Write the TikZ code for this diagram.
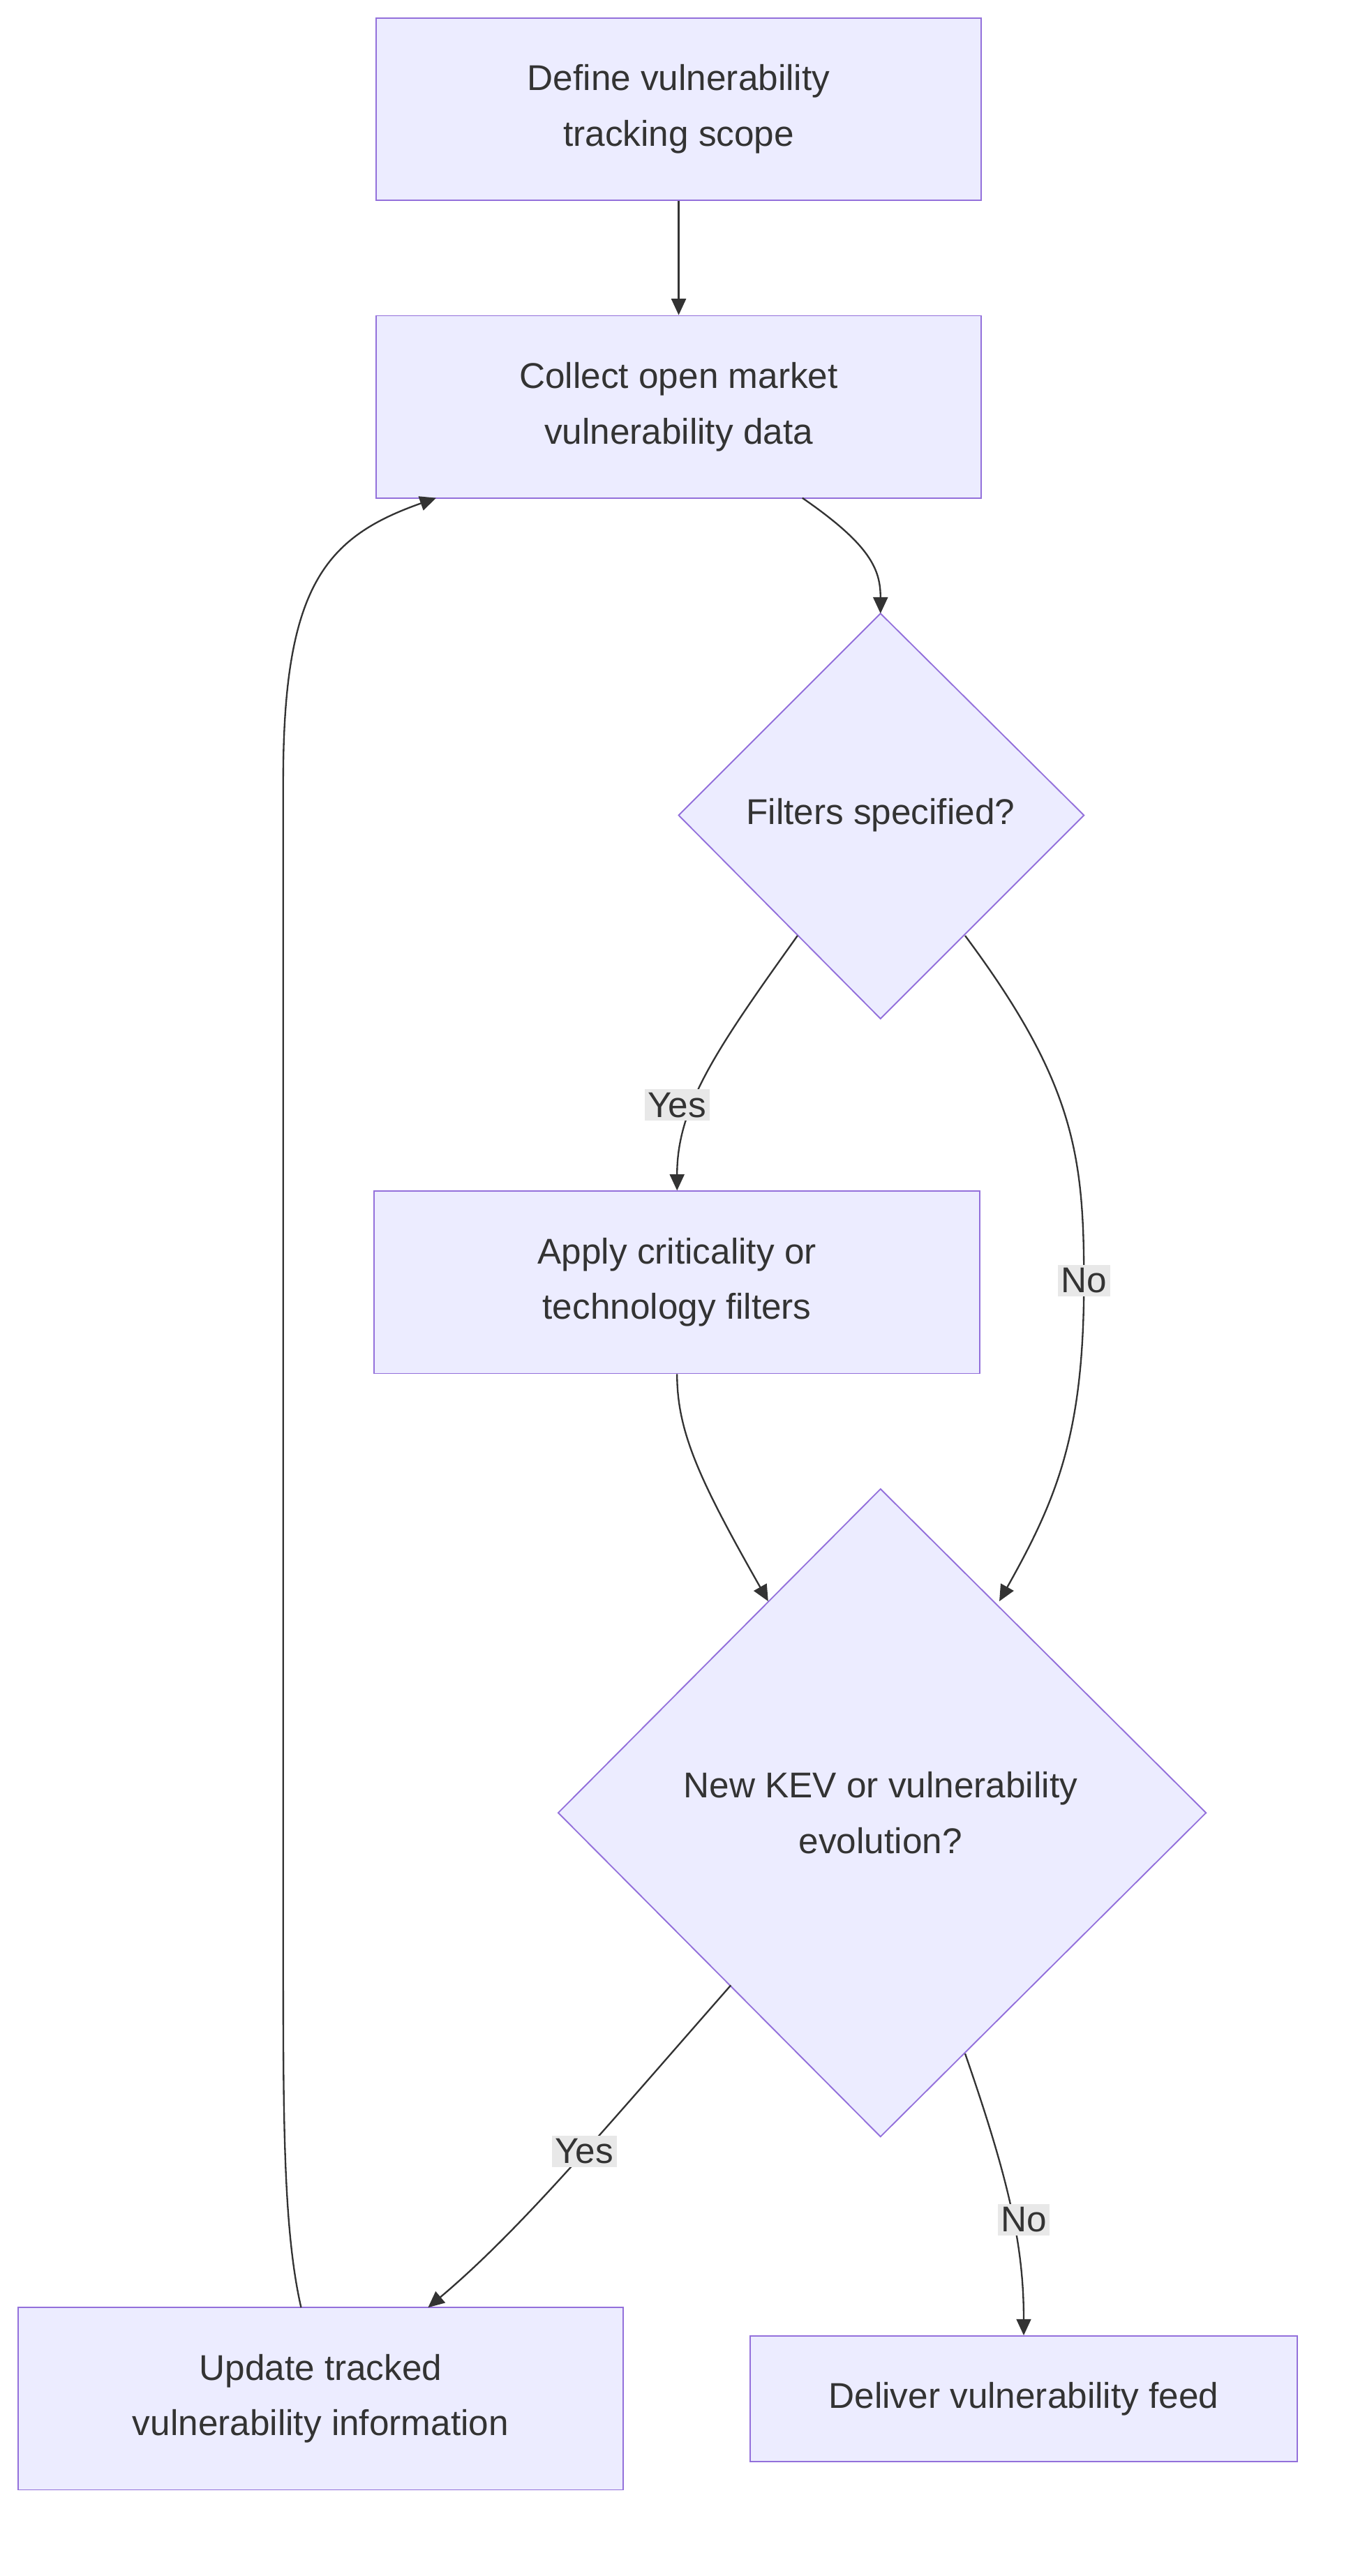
\documentclass[tikz,border=0pt]{standalone}
\usepackage{fontspec}
\setmainfont{Liberation Sans}
\usetikzlibrary{arrows.meta}
\definecolor{nfill}{HTML}{ECECFF}
\definecolor{nline}{HTML}{9370DB}
\definecolor{eline}{HTML}{333333}
\definecolor{lbg}{HTML}{E8E8E8}
\begin{document}
\begin{tikzpicture}[x=1pt,y=-1pt,
 box/.style={draw=nline,fill=nfill,line width=0.8pt,minimum width=372pt,minimum height=112pt,align=center,font=\fontsize{22}{34}\selectfont,text=eline},
 dshape/.style={draw=nline,fill=nfill,line width=0.8pt},
 dtext/.style={align=center,font=\fontsize{22}{34}\selectfont,text=eline},
 lab/.style={fill=lbg,inner sep=2pt,font=\fontsize{22}{26}\selectfont,text=eline},
 e/.style={draw=eline,line width=1pt,-{Triangle[length=10pt,width=9pt]}}]
\useasboundingbox (0,0) rectangle (830,1583);
\node[box] (b1) at (417,67) {Define vulnerability\\tracking scope};
\node[box] (b2) at (417,250) {Collect open market\\vulnerability data};
\coordinate (d1t) at (541,377);
\draw[dshape] (d1t) -- (666,501) -- (541,626) -- (417,501) -- cycle;
\node[dtext] (d1) at (541,501) {Filters specified?};
\node[box] (b3) at (416,788) {Apply criticality or\\technology filters};
\coordinate (d2t) at (541,915);
\draw[dshape] (d2t) -- (741,1114) -- (541,1313) -- (343,1114) -- cycle;
\node[dtext] (d2) at (541,1114) {New KEV or vulnerability\\evolution?};
\node[box] (b4) at (197,1474) {Update tracked\\vulnerability information};
\node[box,minimum width=336pt,minimum height=77pt] (b5) at (629,1474) {Deliver vulnerability feed};
\coordinate (b2a) at (493,306);
\coordinate (b2b) at (268,306);
\coordinate (d1l) at (490,575);
\coordinate (d1r) at (593,575);
\coordinate (d2a) at (472,984);
\coordinate (d2b) at (614,984);
\coordinate (d2l) at (449,1220);
\coordinate (d2r) at (593,1262);
\coordinate (b4a) at (263,1418);
\coordinate (b4b) at (185,1418);
\draw[e] (b1) -- (b2);
\draw[e] (b2a) .. controls (535,335) and (541,350) .. (d1t);
\draw[e] (d1l) .. controls (440,645) and (416,680) .. (b3.north);
\draw[e] (d1r) .. controls (660,665) and (666,710) .. (666,787) .. controls (666,880) and (650,920) .. (d2b);
\draw[e] (b3.south) .. controls (416,880) and (430,910) .. (d2a);
\draw[e] (d2l) .. controls (370,1310) and (320,1370) .. (b4a);
\draw[e] (d2r) .. controls (620,1340) and (629,1380) .. (b5.north);
\draw[e] (b4b) .. controls (174,1370) and (174,1300) .. (174,1200) -- (174,480) .. controls (174,360) and (200,330) .. (b2b);
\node[lab] at (416,679) {Yes};
\node[lab] at (666,787) {No};
\node[lab] at (359,1322) {Yes};
\node[lab] at (629,1364) {No};
\end{tikzpicture}
\end{document}
